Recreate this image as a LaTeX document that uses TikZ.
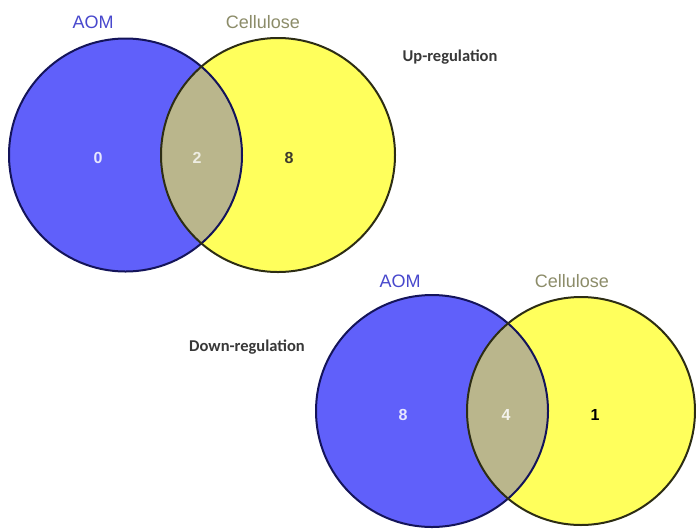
\documentclass[tikz,border=0pt]{standalone}
\usepackage{fontspec}
\setmainfont{Liberation Sans}
\newfontfamily\calib{Carlito}
\definecolor{aomblue}{RGB}{96,96,250}
\definecolor{aomedge}{RGB}{20,20,90}
\definecolor{celyellow}{RGB}{255,255,92}
\definecolor{celedge}{RGB}{45,45,20}
\definecolor{lensgray}{RGB}{186,182,140}
\definecolor{aomtext}{RGB}{72,72,205}
\definecolor{celtext}{RGB}{140,140,105}
\tikzset{
  setlbl/.style={font=\fontsize{18}{20}\selectfont},
  num/.style={font=\bfseries\fontsize{16}{18}\selectfont},
  reglbl/.style={font=\calib\bfseries\fontsize{16.5}{18}\selectfont,text=black!78},
  aomset/.style={fill=aomblue},
  celset/.style={fill=celyellow},
  aomrim/.style={draw=aomedge,line width=2pt},
  celrim/.style={draw=celedge,line width=2pt}
}
\begin{document}
\begin{tikzpicture}[x=1pt,y=-1pt]
\useasboundingbox[fill=white] (0,0) rectangle (696,531);
% up-regulation
\coordinate (aU) at (125.5,155);
\coordinate (cU) at (278,155);
\fill[aomset] (aU) circle (116.5pt);
\fill[celset] (cU) circle (117pt);
\begin{scope}
\clip (aU) circle (116.5pt);
\fill[lensgray] (cU) circle (117pt);
\end{scope}
\draw[aomrim] (aU) circle (116.5pt);
\draw[celrim] (cU) circle (117pt);
\node[setlbl,text=aomtext] (aUlbl) at (93,22) {AOM};
\node[setlbl,text=celtext] (cUlbl) at (263,22) {Cellulose};
\node[reglbl] (up) at (450,57) {Up-regulation};
\node[num,text=white!85!aomblue] (nU1) at (98,158) {0};
\node[num,text=white!75!lensgray] (nU2) at (197,158) {2};
\node[num,text=black!75!olive] (nU3) at (289,158) {8};
% down-regulation
\coordinate (aD) at (432,411);
\coordinate (cD) at (581,411);
\fill[aomset] (aD) circle (116pt);
\fill[celset] (cD) circle (114pt);
\begin{scope}
\clip (aD) circle (116pt);
\fill[lensgray] (cD) circle (114pt);
\end{scope}
\draw[aomrim] (aD) circle (116pt);
\draw[celrim] (cD) circle (114pt);
\node[setlbl,text=aomtext] (aDlbl) at (400,281) {AOM};
\node[setlbl,text=celtext] (cDlbl) at (572,281) {Cellulose};
\node[reglbl] (down) at (247,347) {Down-regulation};
\node[num,text=white!85!aomblue] (nD1) at (403,415) {8};
\node[num,text=white!85!lensgray] (nD2) at (506,415) {4};
\node[num,text=black] (nD3) at (595,415) {1};
\end{tikzpicture}
\end{document}
